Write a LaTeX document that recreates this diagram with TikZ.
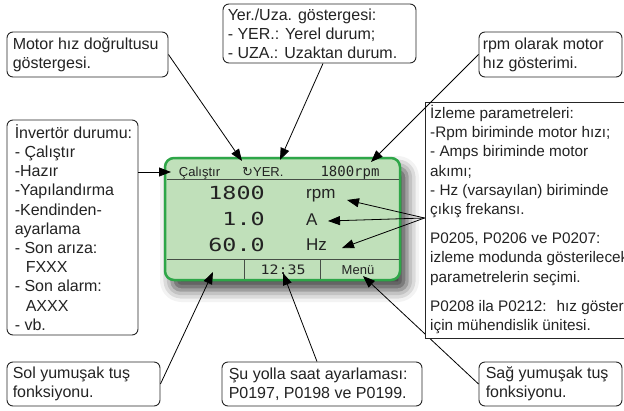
\documentclass[tikz,border=0pt]{standalone}
\usepackage{fontspec}
\setmainfont{Liberation Sans}
\newfontfamily\lcdfont{DejaVu Sans Mono}
\newfontfamily\symfont{DejaVu Sans}
\usetikzlibrary{arrows.meta,shadows.blur,calc}
\definecolor{lcdfill}{RGB}{192,224,186}
\definecolor{lcdedge}{RGB}{46,166,72}
\definecolor{lcdline}{RGB}{70,78,70}
\definecolor{txtcol}{RGB}{35,35,35}
\begin{document}
\begin{tikzpicture}[x=1pt,y=-1pt,
  box/.style={draw=black!85, line width=0.9pt, rounded corners=6pt, fill=white, inner sep=0pt},
  sqbox/.style={draw=black!85, line width=0.9pt, fill=white, inner sep=0pt},
  txt/.style={align=left, inner sep=0pt, text=txtcol, font=\fontsize{16}{19}\selectfont},
  conn/.style={draw=black, line width=0.8pt},
  arr/.style={conn, -{Triangle[length=12pt,width=9pt]}},
  display/.style={draw=lcdedge, line width=2.5pt, fill=lcdfill, rounded corners=9pt, inner sep=0pt,
    blur shadow={shadow xshift=7pt, shadow yshift=-10pt, shadow blur radius=12pt, shadow opacity=75}},
  sep/.style={draw=lcdline, line width=0.8pt},
  hdr/.style={inner sep=0pt, text=txtcol, font=\fontsize{13}{13}\selectfont},
  lcdval/.style={inner sep=0pt, text=txtcol, font=\lcdfont\fontsize{18}{18}\selectfont, xscale=1.3},
  unit/.style={inner sep=0pt, text=txtcol, font=\fontsize{17}{17}\selectfont}
]
\useasboundingbox (0,0) rectangle (624,410);
\clip (0,0) rectangle (624,410);

% display
\node[display, minimum width=235pt, minimum height=122pt] (disp) at (282.5,219) {};
\draw[sep] (166.5,179) -- (398.5,179);
\draw[sep] (166.5,259) -- (398.5,259);
\draw[sep] (244,259) -- (244,279);
\draw[sep] (320,259) -- (320,279);

\node[hdr, anchor=base] (calis) at (199.5,176.5) {Çalıştır};
\node[hdr, anchor=base west] (yerind) at (242,176.5) {{\symfont\fontsize{13}{13}\selectfont ↻}YER.};
\node[hdr, anchor=base, font=\lcdfont\fontsize{14}{14}\selectfont] (rpmtop) at (350,176.5) {1800rpm};

\node[lcdval, anchor=base east] (v1) at (265,199.5) {1800};
\node[lcdval, anchor=base east] (v2) at (265,225.5) {1.0};
\node[lcdval, anchor=base east] (v3) at (265,251.5) {60.0};
\node[unit, anchor=base west] (u1) at (306,198.5) {rpm};
\node[unit, anchor=base west] (u2) at (306,225) {A};
\node[unit, anchor=base west] (u3) at (306,250.5) {Hz};

\node[hdr, anchor=base, font=\lcdfont\fontsize{13}{13}\selectfont, xscale=1.15] (clock) at (283,274.5) {12:35};
\node[hdr, anchor=base] (menu) at (358,274.5) {Menü};

% arrow tips
\coordinate (tipDir) at (242,161);
\coordinate (tipYer) at (280,160);
\coordinate (tipRpmTop) at (371,162);
\coordinate (tipInv) at (171,172);
\coordinate (tipRpm) at (347,200);
\coordinate (tipA) at (328,221);
\coordinate (tipHz) at (342,248);
\coordinate (tipLeft) at (213,272);
\coordinate (tipClock) at (283,273);
\coordinate (tipMenu) at (363,276);

% right soft key box and its connector (passes behind the monitoring box)
\node[box, minimum width=143pt, minimum height=44pt] (sag) at (550.5,384) {};
\node[txt, anchor=west] (sagT) at ([xshift=7pt]sag.west) {Sağ yumuşak tuş\\fonksiyonu.};
\draw[arr] (sag.west) -- (tipMenu);

% boxes
\node[box, minimum width=161pt, minimum height=45pt] (motor) at (87.5,54.5) {};
\node[txt, anchor=west] (motorT) at ([xshift=6pt]motor.west) {Motor hız doğrultusu\\göstergesi.};

\node[box, minimum width=193pt, minimum height=59pt] (yer) at (319.5,33.5) {};
\node[txt, anchor=west] (yerT) at ([xshift=5pt]yer.west) {Yer./Uza. göstergesi:\\- YER.: Yerel durum;\\- UZA.: Uzaktan durum.};

\node[box, minimum width=143pt, minimum height=45pt] (rpmb) at (550.5,54.5) {};
\node[txt, anchor=west] (rpmT) at ([xshift=4pt]rpmb.west) {rpm olarak motor\\hız gösterimi.};

\node[box, minimum width=131pt, minimum height=215pt] (inv) at (72.5,227.5) {};
\node[txt, anchor=west, font=\fontsize{16}{19.2}\selectfont] (invT) at ([xshift=8pt]inv.west)
  {İnvertör durumu:\\- Çalıştır\\-Hazır\\-Yapılandırma\\-Kendinden-\\ayarlama\\- Son arıza:\\\hspace*{11pt}FXXX\\- Son alarm:\\\hspace*{11pt}AXXX\\- vb.};

\node[sqbox, minimum width=225pt, minimum height=236pt] (izl) at (537.5,220) {};
\node[txt, anchor=north west, font=\fontsize{15.3}{19.2}\selectfont] (izlT) at (430,105)
  {İzleme parametreleri:\\-Rpm biriminde motor hızı;\\- Amps biriminde motor\\akımı;\\- Hz (varsayılan) biriminde\\çıkış frekansı.\\[10pt]P0205, P0206 ve P0207:\\izleme modunda gösterilecek\\parametrelerin seçimi.\\[10pt]P0208 ila P0212:~ hız gösterimi\\için mühendislik ünitesi.};

\node[box, minimum width=153pt, minimum height=44pt] (sol) at (83.5,384) {};
\node[txt, anchor=west] (solT) at ([xshift=6pt]sol.west) {Sol yumuşak tuş\\fonksiyonu.};

\node[box, minimum width=200pt, minimum height=44pt] (su) at (322,384) {};
\node[txt, anchor=west] (suT) at ([xshift=7pt]su.west) {Şu yolla saat ayarlaması:\\P0197, P0198 ve P0199.};

% connectors
\draw[arr] (motor.east) -- (tipDir);
\draw[arr] ([xshift=3.5pt]yer.south) -- (tipYer);
\draw[arr] (rpmb.west) -- (tipRpmTop);
\draw[arr] (inv.east |- tipInv) -- (tipInv);
\draw[arr] (izl.west |- 0,218) -- (tipRpm);
\draw[arr] (izl.west |- 0,218) -- (tipA);
\draw[arr] (izl.west |- 0,218) -- (tipHz);
\draw[arr] (sol.east) -- (tipLeft);
\draw[arr] ([xshift=-5pt]su.north) -- (tipClock);
\end{tikzpicture}
\end{document}
